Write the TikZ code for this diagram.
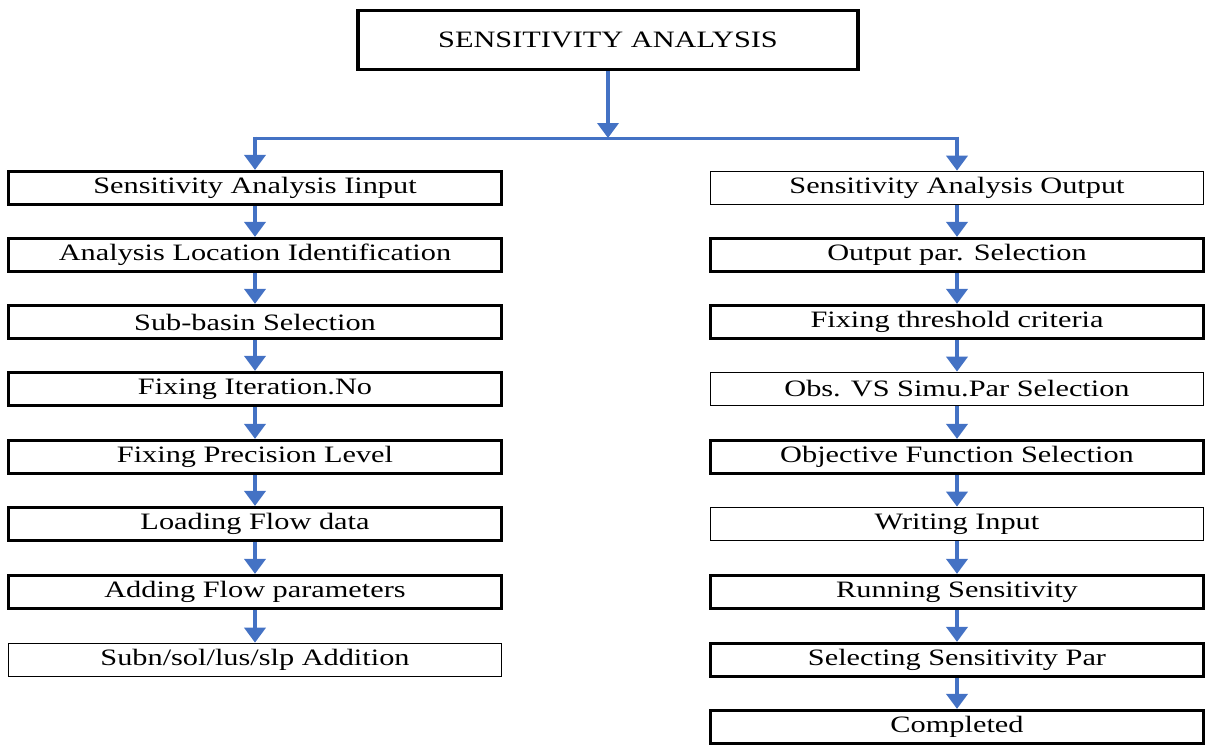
\documentclass[tikz,border=0pt]{standalone}
\usepackage{fontspec}
\setmainfont{Liberation Serif}[FakeStretch=1.29]
\usetikzlibrary{arrows.meta}
\definecolor{arrblue}{HTML}{4472C4}
\tikzset{
  box/.style={draw=black, line width=3.2pt, minimum width=493pt, minimum height=33pt, inner sep=0pt, font=\fontsize{23.5}{26}\selectfont, fill=white},
  thinbox/.style={box, line width=1.7pt},
  topbox/.style={draw=black, line width=3.8pt, minimum width=500pt, minimum height=59pt, inner sep=0pt, font=\fontsize{23.5}{26}\selectfont},
  flow/.style={draw=arrblue, line width=4pt, -{Triangle[length=15pt,width=21pt]}},
  bar/.style={draw=arrblue, line width=3pt}
}
\begin{document}
\begin{tikzpicture}[x=1pt,y=-1pt]
\useasboundingbox (0,0) rectangle (1205,745);
\node[topbox] (top) at (608,40) {SENSITIVITY ANALYSIS};
% left column
\node[box] (l1) at (255,188) {Sensitivity Analysis Iinput};
\node[box] (l2) at (255,255) {Analysis Location Identification};
\node[box] (l3) at (255,322) {Sub-basin Selection};
\node[box] (l4) at (255,389) {Fixing Iteration.No};
\node[box] (l5) at (255,457) {Fixing Precision Level};
\node[box] (l6) at (255,524) {Loading Flow data};
\node[box] (l7) at (255,592) {Adding Flow parameters};
\node[thinbox] (l8) at (255,660) {Subn/sol/lus/slp Addition};
% right column
\node[thinbox] (r1) at (957,188) {Sensitivity Analysis Output};
\node[box] (r2) at (957,255) {Output par. Selection};
\node[box] (r3) at (957,322) {Fixing threshold criteria};
\node[thinbox] (r4) at (957,389) {Obs. VS Simu.Par Selection};
\node[box] (r5) at (957,457) {Objective Function Selection};
\node[thinbox] (r6) at (957,524) {Writing Input};
\node[box] (r7) at (957,592) {Running Sensitivity};
\node[box] (r8) at (957,660) {Selecting Sensitivity Par};
\node[box] (r9) at (957,727) {Completed};
% trunk
\coordinate (hub) at (top.south |- 0,138);
\coordinate (hl) at (l1.north |- hub);
\coordinate (hr) at (r1.north |- hub);
\draw[flow] (top.south) -- (hub);
\draw[bar] (hl) -- (hr);
\draw[flow] ([yshift=1.5pt]hl) -- (l1.north);
\draw[flow] ([yshift=1.5pt]hr) -- (r1.north);
\foreach \a/\b in {l1/l2,l2/l3,l3/l4,l4/l5,l5/l6,l6/l7,l7/l8,r1/r2,r2/r3,r3/r4,r4/r5,r5/r6,r6/r7,r7/r8,r8/r9}
  \draw[flow] (\a.south) -- (\b.north);
\end{tikzpicture}
\end{document}
